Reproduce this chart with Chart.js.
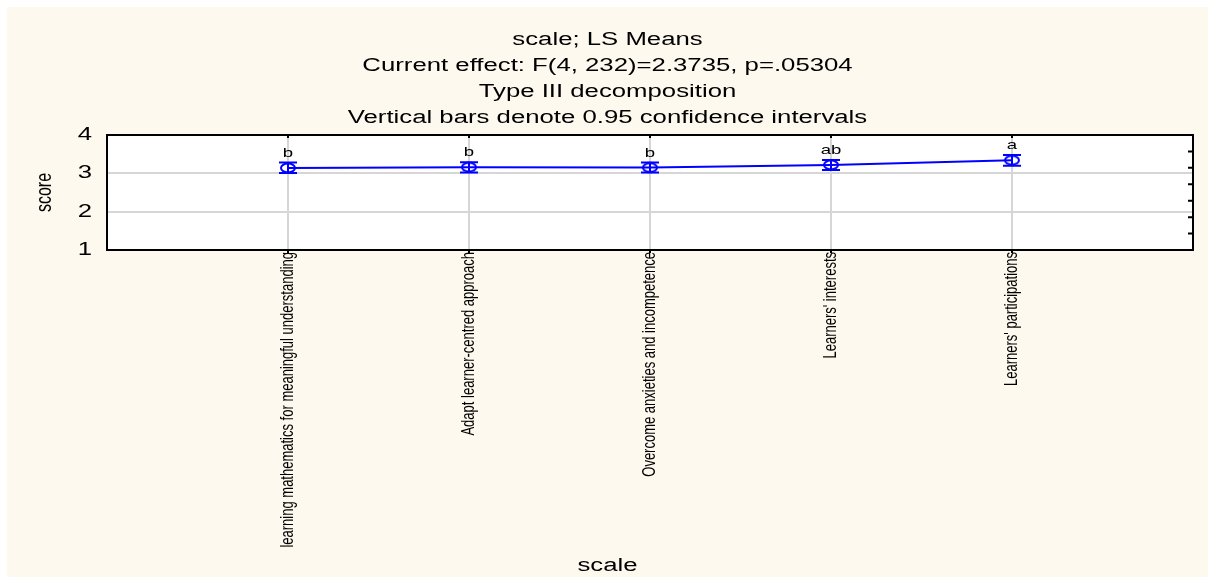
<!DOCTYPE html>
<html>
<head>
<meta charset="utf-8">
<script src="https://cdn.jsdelivr.net/npm/chart.js@4/dist/chart.umd.min.js"></script>
<style>
  html, body { margin: 0; padding: 0; background: #ffffff; }
  #wrap { width: 1215px; height: 584px; }
</style>
</head>
<body>
<div id="wrap"><canvas id="lsChart" width="1215" height="584"></canvas></div>
<script>
// data
const categories = [
    'learning mathematics for meaningful understanding',
    'Adapt learner-centred approach',
    'Overcome anxieties and incompetence',
    "Learners' interests",
    "Learners' participations"
];
const means = [3.14, 3.16, 3.15, 3.22, 3.34];
const lower = [3.01, 3.02, 3.02, 3.09, 3.20];
const upper = [3.28, 3.29, 3.28, 3.35, 3.48];
const groups = ['b', 'b', 'b', 'ab', 'a'];
const yTicks = [1, 2, 3, 4];
const titleLines = [
    'scale; LS Means',
    'Current effect: F(4, 232)=2.3735, p=.05304',
    'Type III decomposition',
    'Vertical bars denote 0.95 confidence intervals'
];
const xTitle = 'scale';
const yTitle = 'score';

const FONT = '"Liberation Sans", Arial, sans-serif';
const SX = 1.43; // the original picture is stretched sideways

const points = means.map((m, i) => ({ x: i + 1, y: m }));

// open blue ellipse marker
const marker = document.createElement('canvas');
marker.width = 20; marker.height = 14;
(function () {
    const m = marker.getContext('2d');
    m.strokeStyle = '#0000ff';
    m.lineWidth = 2;
    m.beginPath();
    m.ellipse(10, 7, 7, 4.5, 0, 0, Math.PI * 2);
    m.stroke();
})();

function wideText(ctx, text, x, y, size, align, baseline, rotate) {
    ctx.save();
    ctx.translate(x, y);
    ctx.scale(SX, 1);
    if (rotate) ctx.rotate(-Math.PI / 2);
    ctx.font = size + 'px ' + FONT;
    ctx.fillStyle = '#000000';
    ctx.textAlign = align;
    ctx.textBaseline = baseline;
    ctx.fillText(text, 0, 0);
    ctx.restore();
}

const decorPlugin = {
    id: 'decor',
    beforeDraw(chart) {
        const ctx = chart.ctx, a = chart.chartArea;
        ctx.save();
        ctx.fillStyle = '#ffffff';
        ctx.fillRect(0, 0, chart.width, chart.height);
        ctx.fillStyle = '#fdf9ee';
        ctx.fillRect(7, 7, chart.width - 14, chart.height - 14);
        ctx.fillStyle = '#ffffff';
        ctx.fillRect(a.left, a.top, a.right - a.left, a.bottom - a.top);
        ctx.restore();
    },
    afterDatasetsDraw(chart) {
        const ctx = chart.ctx, a = chart.chartArea;
        const xs = chart.scales.x, ys = chart.scales.y, y2 = chart.scales.y2;
        ctx.save();
        // error bars and group letters
        ctx.strokeStyle = '#0000ff';
        ctx.lineWidth = 2;
        means.forEach((m, i) => {
            const px = xs.getPixelForValue(i + 1);
            const pt = ys.getPixelForValue(upper[i]);
            const pb = ys.getPixelForValue(lower[i]);
            ctx.beginPath();
            ctx.moveTo(px, pt); ctx.lineTo(px, pb);
            ctx.moveTo(px - 9, pt); ctx.lineTo(px + 9, pt);
            ctx.moveTo(px - 9, pb); ctx.lineTo(px + 9, pb);
            ctx.stroke();
            wideText(ctx, groups[i], px, pt - 3, 13, 'center', 'bottom', false);
        });
        // frame top and inner ticks
        ctx.strokeStyle = '#000000';
        ctx.lineWidth = 2;
        ctx.beginPath();
        ctx.moveTo(a.left - 1, a.top); ctx.lineTo(a.right + 1, a.top);
        categories.forEach((c, i) => {
            const px = xs.getPixelForValue(i + 1);
            ctx.moveTo(px, a.top); ctx.lineTo(px, a.top + 3);
        });
        y2.ticks.forEach(t => {
            const py = y2.getPixelForValue(t.value);
            if (py > a.top + 2 && py < a.bottom - 2) {
                ctx.moveTo(a.right, py); ctx.lineTo(a.right - 5, py);
            }
        });
        ctx.stroke();
        ctx.restore();
    },
    afterDraw(chart) {
        const ctx = chart.ctx, a = chart.chartArea;
        const xs = chart.scales.x, ys = chart.scales.y;
        // titles
        titleLines.forEach((t, i) => {
            wideText(ctx, t, chart.width / 2, 40 + i * 26, 18, 'center', 'middle', false);
        });
        // y tick labels
        yTicks.forEach(v => {
            wideText(ctx, String(v), a.left - 15, ys.getPixelForValue(v), 18, 'right', 'middle', false);
        });
        // x tick labels, rotated
        categories.forEach((c, i) => {
            wideText(ctx, c, xs.getPixelForValue(i + 1), a.bottom + 2, 13, 'right', 'middle', true);
        });
        // axis titles
        wideText(ctx, yTitle, 45, (a.top + a.bottom) / 2, 16, 'center', 'middle', true);
        wideText(ctx, xTitle, chart.width / 2, 566, 18, 'center', 'middle', false);
    }
};

const ctx = document.getElementById('lsChart').getContext('2d');
new Chart(ctx, {
    type: 'line',
    data: {
        datasets: [{
            data: points,
            borderColor: '#0000ff',
            borderWidth: 2,
            pointStyle: marker,
            pointRadius: 7,
            tension: 0
        }]
    },
    options: {
        responsive: false,
        animation: false,
        layout: { padding: { left: 7, right: 22, top: 135, bottom: 7 } },
        plugins: {
            legend: { display: false },
            tooltip: { enabled: false },
            title: { display: false }
        },
        scales: {
            x: {
                type: 'linear',
                min: 0,
                max: categories.length + 1,
                afterBuildTicks(scale) {
                    scale.ticks = categories.map((c, i) => ({ value: i + 1 }));
                },
                afterFit(scale) { scale.height = 327; },
                ticks: { display: false },
                grid: { color: '#d6d6d6', lineWidth: 2, tickLength: 3, tickColor: '#000000', tickWidth: 2 },
                border: { color: '#000000', width: 2 }
            },
            y: {
                min: 1,
                max: 4,
                afterBuildTicks(scale) {
                    scale.ticks = yTicks.map(v => ({ value: v }));
                },
                afterFit(scale) { scale.width = 100; },
                ticks: { display: false },
                grid: {
                    drawTicks: false,
                    lineWidth: 2,
                    color: (c) => (c.tick && (c.tick.value === 2 || c.tick.value === 3)) ? '#d6d6d6' : 'rgba(0,0,0,0)'
                },
                border: { color: '#000000', width: 2 }
            },
            y2: {
                position: 'right',
                min: 0,
                max: 7,
                ticks: { display: false, stepSize: 1 },
                grid: { drawOnChartArea: false, drawTicks: false },
                border: { color: '#000000', width: 2 },
                afterFit(scale) { scale.width = 0; }
            }
        }
    },
    plugins: [decorPlugin]
});
</script>
</body>
</html>
